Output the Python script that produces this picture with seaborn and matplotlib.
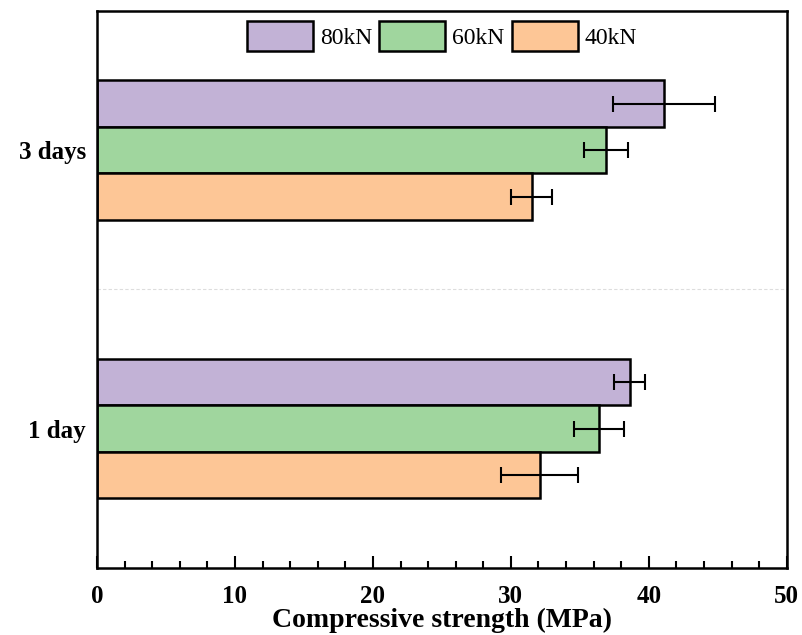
import numpy as np
import pandas as pd
import matplotlib
matplotlib.use("Agg")
import matplotlib.pyplot as plt
import seaborn as sns
from matplotlib.ticker import MultipleLocator

# values
ages = ["3 days", "1 day"]
loads = ["80kN", "60kN", "40kN"]
strength = {
    "80kN": [41.1, 38.6],
    "60kN": [36.9, 36.4],
    "40kN": [31.5, 32.1],
}
errors = {
    "80kN": [3.7, 1.1],
    "60kN": [1.6, 1.8],
    "40kN": [1.5, 2.8],
}
colors = ["#C2B2D6", "#A0D69E", "#FDC696"]

rows = []
for load in loads:
    for i, age in enumerate(ages):
        rows.append({"age": age, "load": load,
                     "strength": strength[load][i], "err": errors[load][i]})
df = pd.DataFrame(rows)

sns.set_theme(style="white")
plt.rcParams["font.family"] = ["Liberation Serif", "DejaVu Serif"]
plt.rcParams["text.color"] = "black"
plt.rcParams["axes.labelcolor"] = "black"
plt.rcParams["xtick.color"] = "black"
plt.rcParams["ytick.color"] = "black"

fig = plt.figure(figsize=(8.02, 6.35), dpi=100)
ax = fig.add_axes([0.121, 0.1055, 0.86, 0.8775])

sns.barplot(data=df, y="age", x="strength", hue="load", order=ages,
            hue_order=loads, palette=colors, saturation=1, orient="h",
            width=0.5, errorbar=None, edgecolor="black", linewidth=1.8, ax=ax)

# error bars placed at the centre of each drawn bar
for container, load in zip(ax.containers, loads):
    for patch, age in zip(container.patches, ages):
        yc = patch.get_y() + patch.get_height() / 2
        val = df[(df.load == load) & (df.age == age)]
        ax.errorbar(patch.get_width(), yc, xerr=val["err"].values[0],
                    fmt="none", ecolor="black", elinewidth=1.5,
                    capsize=5.5, capthick=1.5)

ax.axhline(0.5, color="#dddddd", lw=0.8, ls=(0, (3, 2)))

ax.set_xlim(0, 50)
ax.set_ylim(1.5, -0.5)
ax.xaxis.set_major_locator(MultipleLocator(10))
ax.xaxis.set_minor_locator(MultipleLocator(2))
ax.tick_params(axis="x", which="major", direction="in", length=9, width=1.5,
               bottom=True, labelsize=18, pad=12)
ax.tick_params(axis="x", which="minor", direction="in", length=5, width=1.5,
               bottom=True)
ax.tick_params(axis="y", length=0, labelsize=18, pad=8)
for lab in ax.get_xticklabels() + ax.get_yticklabels():
    lab.set_fontweight("bold")

ax.set_xlabel("Compressive strength (MPa)", fontsize=20, fontweight="bold",
              labelpad=0)
ax.set_ylabel("")

for sp in ax.spines.values():
    sp.set_visible(True)
    sp.set_color("black")
    sp.set_linewidth(1.8)

handles, labels = ax.get_legend_handles_labels()
leg = ax.legend(handles, labels, loc="upper center", ncol=3, frameon=False,
                fontsize=17, handlelength=2.8, handleheight=1.6,
                handletextpad=0.3, columnspacing=0.3,
                bbox_to_anchor=(0.5, 1.02))
for h in leg.legend_handles:
    h.set_edgecolor("black")
    h.set_linewidth(1.8)

fig.savefig("out.png", dpi=100)
